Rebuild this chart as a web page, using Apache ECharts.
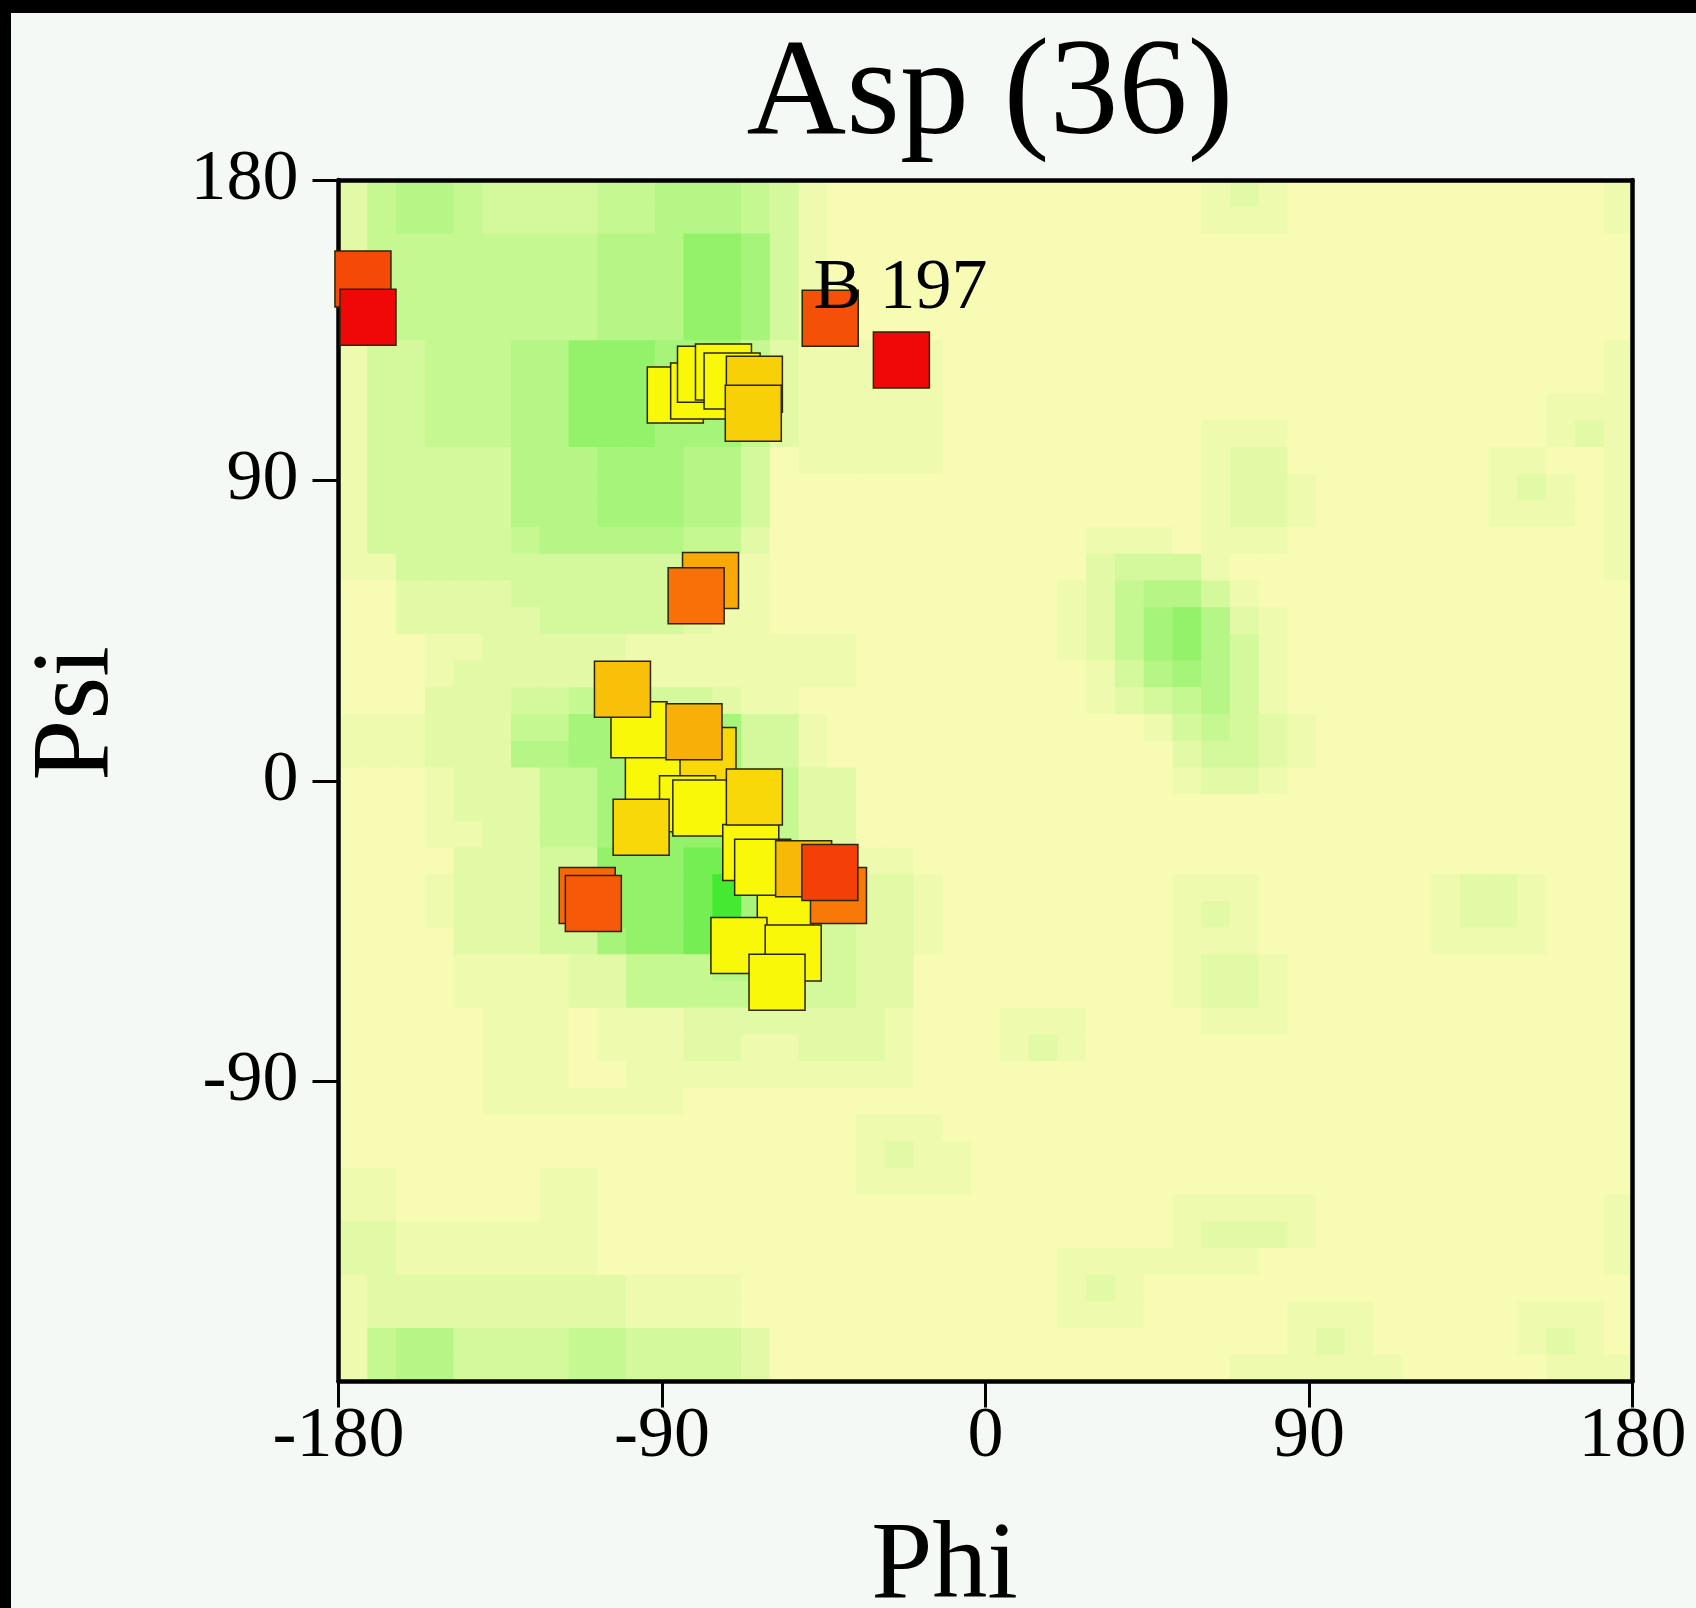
<!DOCTYPE html>
<html>
<head>
<meta charset="utf-8">
<script src="https://cdn.jsdelivr.net/npm/echarts@6/dist/echarts.min.js"></script>
<style>
html,body{margin:0;padding:0;background:#f5f9f6;}
#chart{width:1696px;height:1608px;}
</style>
</head>
<body>
<div id="chart"></div>
<script>
// ---------------- data ----------------
const chartTitle = 'Asp (36)';
const xAxisName = 'Phi';
const yAxisName = 'Psi';
const xTickValues = [-180, -90, 0, 90, 180];
const yTickValues = [-90, 0, 90, 180];
const binSize = 8; // degrees per background density cell

// background density levels (0..9), one string per psi row from +180 (top) down to -180,
// each character one phi column from -180 (left) to +180
const densityRows = [
  "245543333445554310000000000000121000000000001",
  "245543333445554310000000000000111000000000001",
  "244444444555776310000000000000000000000000000",
  "244444444555776310000000000000000000000000000",
  "244444444555776310000000000000000000000000000",
  "244444444555776310000000000000000000000000000",
  "133444557776664211111000000000000000000000001",
  "133444557776664211111000000000000000000000001",
  "133444557776664211111000000000000000000000111",
  "133444557776664211111000000000111000000000121",
  "133333555666553011111000000000122000000011001",
  "133333555666553000000000000000122100000012101",
  "133333555666553000000000000000122100000011101",
  "133333455555442000000000001110111000000000001",
  "113333333333211000000000002333100000000000001",
  "002222333333211000000000012455310000000000000",
  "002222233333211000000000012467521000000000000",
  "000112222211111111000000012467531000000000000",
  "000122222211111111000000001356531000000000000",
  "000222334433321100000000001234531000000000000",
  "111222446666663310000000000013432100000000000",
  "111222556666663310000000000002332100000000000",
  "000122244676664422000000000001221000000000000",
  "000122244676664422000000000000000000000000000",
  "000112244677774422000000000000000000000000000",
  "000022233777886433110000000000000000000000000",
  "000122233777896433221000000001110000001221000",
  "000122233777896433221000000001210000001221000",
  "000022233677885433221000000001110000001111000",
  "000011112244455533220000000001221000000000000",
  "000011112244444433220000000001221000000000000",
  "000001110111222222210001110000111000000000000",
  "000001110111221122210001210000000000000000000",
  "000001110011111111110000000000000000000000000",
  "000001111111000000000000000000000000000000000",
  "000000000000000000111000000000000000000000000",
  "000000000000000000121100000000000000000000000",
  "110000011000000000111100000000000000000000000",
  "110000011000000000000000000001111100000000001",
  "221111111000000000000000000001222100000000001",
  "221111111000000000000000011111110000000000001",
  "122222222211110000000000012100000000000000000",
  "122222222211110000000000011100000111000001110",
  "145533334433332000000000000000000121000001210",
  "145533334433332000000000000000011111100000111"
];

// residues (phi, psi) and their colour score (0 = yellow ... 1 = red), in drawing order
const residuePhi = [
  -173.2, -171.8, -43.2, -23.4,
  -86.3, -79.8, -77.9, -72.9, -70.5, -64.3, -64.6,
  -76.5, -80.5,
  -92.4, -96.4, -101.0, -77.2, -81.1, -82.9, -79.2, -95.8,
  -65.3, -64.3, -55.7, -40.9, -62.0, -50.6, -43.3,
  -68.6, -53.5, -58.0, -110.8, -109.1
];
const residuePsi = [
  150.3, 138.9, 138.6, 126.1,
  115.6, 116.8, 121.8, 122.5, 119.8, 118.8, 110.1,
  60.0, 55.4,
  -0.3, 15.3, 27.4, 7.6, 14.7, -6.9, -8.2, -13.9,
  -21.5, -4.9, -39.8, -34.4, -25.9, -26.4, -27.5,
  -49.4, -51.6, -60.4, -34.4, -36.8
];
const residueScore = [
  0.71, 1.0, 0.68, 1.0,
  0, 0, 0, 0, 0, 0.156, 0.156,
  0.31, 0.536,
  0, 0, 0.22, 0.125, 0.28, 0, 0, 0.125,
  0, 0.125, 0, 0.5, 0, 0.25, 0.75,
  0, 0, 0, 0.57, 0.64
];
const residueLabels = [
  '', '', 'B 197', '',
  '', '', '', '', '', '', '',
  '', '',
  '', '', '', '', '', '', '', '',
  '', '', '', '', '', '', '',
  '', '', '', '', ''
];

// ---------------- build ----------------
const densityCells = [];
densityRows.forEach((row, r) => {
  for (let c = 0; c < row.length; c++) {
    densityCells.push([-180 + binSize * c, 180 - binSize * (r + 1), Number(row[c])]);
  }
});

const residuePoints = residuePhi.map((p, i) => {
  const item = { value: [p, residuePsi[i], residueScore[i]] };
  if (residueLabels[i]) item.label = { show: true, formatter: residueLabels[i] };
  return item;
});

const FONT = 'Liberation Serif';
const chart = echarts.init(document.getElementById('chart'), null, { renderer: 'canvas' });

chart.setOption({
  animation: false,
  backgroundColor: '#f5f9f6',
  textStyle: { fontFamily: FONT },
  title: {
    text: chartTitle,
    left: 985,
    top: 23,
    textAlign: 'center',
    textStyle: { fontFamily: FONT, fontSize: 138, fontWeight: 'normal', color: '#000' }
  },
  graphic: [
    { type: 'rect', left: 0, top: 0, z: 100, shape: { width: 1696, height: 13 }, style: { fill: '#000' } },
    { type: 'rect', left: 0, top: 0, z: 100, shape: { width: 11, height: 1608 }, style: { fill: '#000' } }
  ],
  grid: { left: 338.5, top: 180, width: 1294, height: 1201.5, containLabel: false, outerBoundsMode: 'none' },
  xAxis: [
    {
      type: 'value', min: -180, max: 180, interval: 90, position: 'bottom', z: 3,
      axisLine: { onZero: false, lineStyle: { color: '#000', width: 4.5 } },
      axisTick: { length: 26, lineStyle: { color: '#000', width: 3 } },
      axisLabel: { customValues: xTickValues, fontFamily: FONT, fontSize: 72, color: '#000', margin: 20 },
      splitLine: { show: false },
      name: xAxisName, nameLocation: 'middle', nameGap: 132,
      nameTextStyle: { fontFamily: FONT, fontSize: 110, color: '#000', padding: [0, 82, 0, 0] }
    },
    {
      type: 'value', min: -180, max: 180, interval: 90, position: 'top', z: 3,
      axisLine: { onZero: false, lineStyle: { color: '#000', width: 4.5 } },
      axisTick: { show: false }, axisLabel: { show: false }, splitLine: { show: false }
    }
  ],
  yAxis: [
    {
      type: 'value', min: -180, max: 180, interval: 90, position: 'left', z: 3,
      axisLine: { onZero: false, lineStyle: { color: '#000', width: 4.5 } },
      axisTick: { customValues: yTickValues, length: 26, lineStyle: { color: '#000', width: 3 } },
      axisLabel: { customValues: yTickValues, fontFamily: FONT, fontSize: 72, color: '#000', margin: 40 },
      splitLine: { show: false },
      name: yAxisName, nameLocation: 'middle', nameGap: 205,
      nameTextStyle: { fontFamily: FONT, fontSize: 110, color: '#000', align: 'left' }
    },
    {
      type: 'value', min: -180, max: 180, interval: 90, position: 'right', z: 3,
      axisLine: { onZero: false, lineStyle: { color: '#000', width: 4.5 } },
      axisTick: { show: false }, axisLabel: { show: false }, splitLine: { show: false }
    }
  ],
  visualMap: [
    {
      type: 'continuous', show: false, seriesIndex: 0, dimension: 2, min: 0, max: 9,
      inRange: { color: ['#f8fbb4', '#eefbae', '#e2faa6', '#d4f99c', '#c6f892', '#b6f686', '#a6f47a', '#94f26a', '#74ee52', '#44ea32'] }
    },
    {
      type: 'continuous', show: false, seriesIndex: 1, dimension: 2, min: 0, max: 1,
      inRange: { color: ['#f8f808', '#f87808', '#f00808'] }
    }
  ],
  series: [
    {
      type: 'custom', xAxisIndex: 0, yAxisIndex: 0, z: 1, silent: true, clip: true,
      data: densityCells,
      encode: { x: 0, y: 1 },
      renderItem: function (params, api) {
        const x0 = api.value(0), y0 = api.value(1);
        const a = api.coord([x0, y0 + binSize]);
        const b = api.coord([x0 + binSize, y0]);
        return {
          type: 'rect',
          shape: { x: a[0], y: a[1], width: b[0] - a[0] + 0.8, height: b[1] - a[1] + 0.8 },
          style: { fill: api.visual('color') }
        };
      }
    },
    {
      type: 'scatter', xAxisIndex: 0, yAxisIndex: 0, z: 5, silent: true,
      symbol: 'rect', symbolSize: 56,
      itemStyle: { borderColor: '#2a2600', borderWidth: 1.5, opacity: 1 },
      label: { show: false, position: [12, -36], align: 'left', verticalAlign: 'top',
               fontFamily: FONT, fontSize: 72, color: '#000' },
      emphasis: { disabled: true },
      data: residuePoints
    }
  ]
});
</script>
</body>
</html>
